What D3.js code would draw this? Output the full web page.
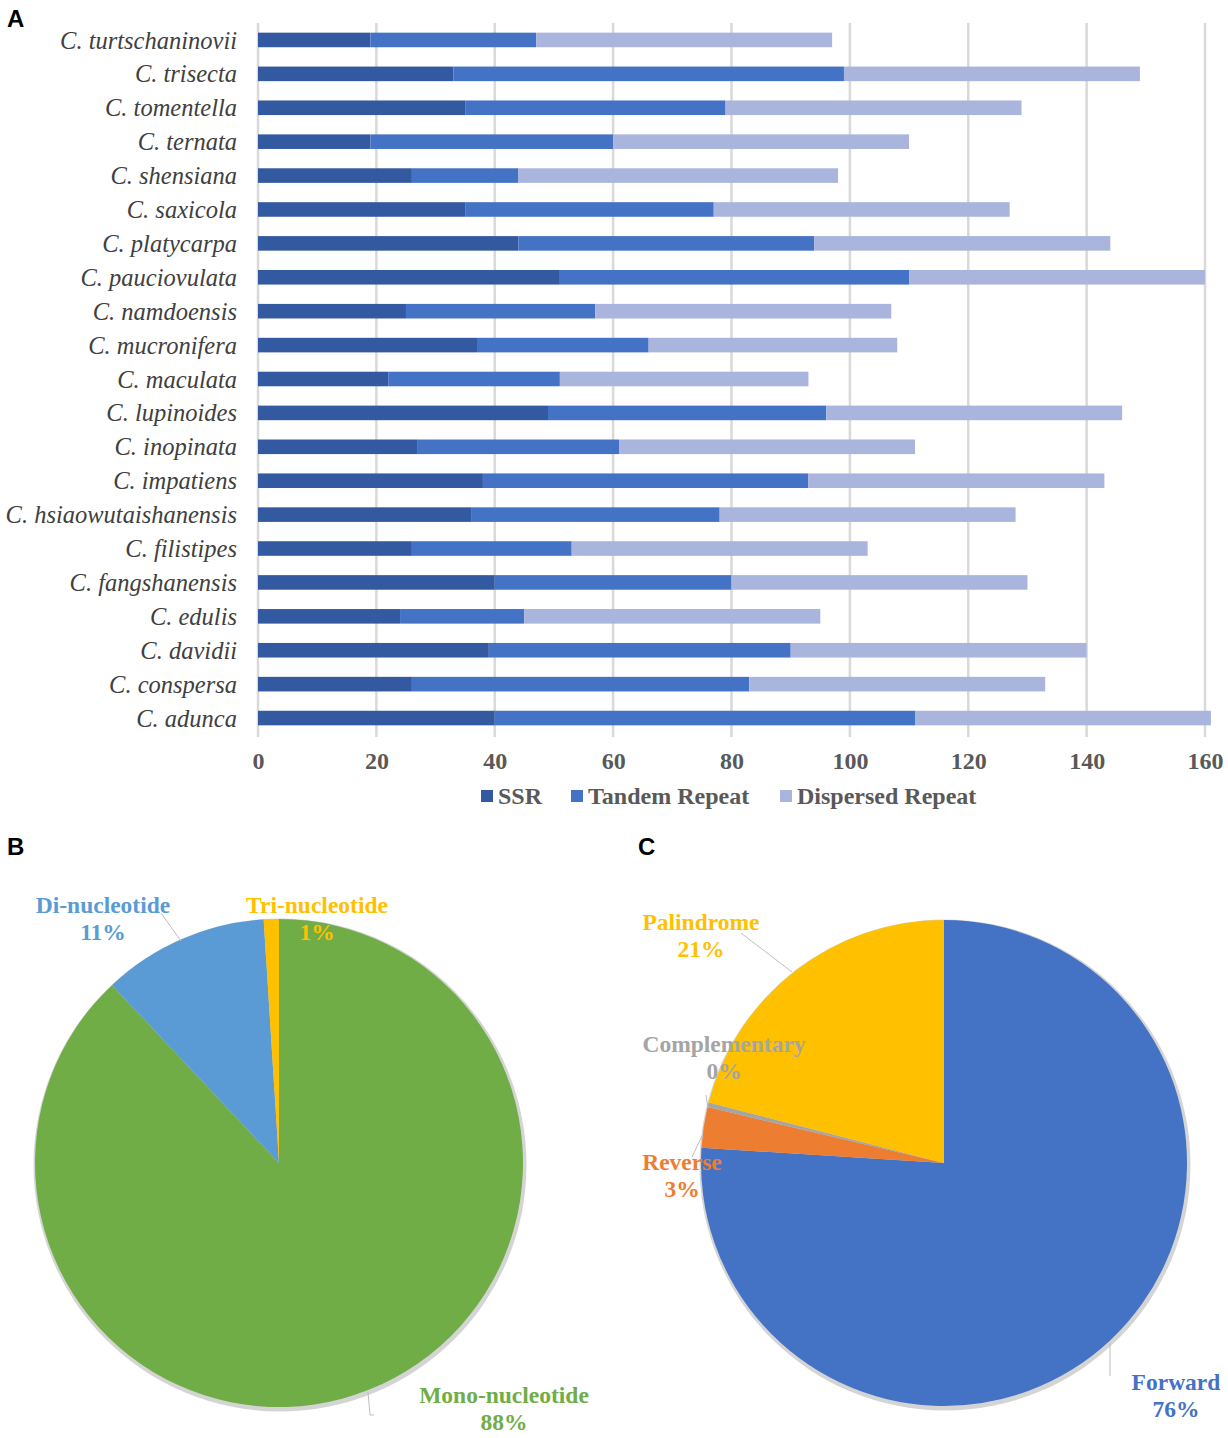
<!DOCTYPE html>
<html>
<head>
<meta charset="utf-8">
<script src="https://cdn.jsdelivr.net/npm/d3@7"></script>
<style>
  body { margin: 0; background: #fff; }
  svg text { font-family: "Liberation Serif", "Times New Roman", serif; }
  .panel { font-family: "Liberation Sans", Arial, sans-serif !important; font-weight: bold; font-size: 24px; }
</style>
</head>
<body>
<svg id="fig" width="1228" height="1438"></svg>
<script>
// species, top to bottom
const species = ["C. turtschaninovii", "C. trisecta", "C. tomentella", "C. ternata", "C. shensiana",
  "C. saxicola", "C. platycarpa", "C. pauciovulata", "C. namdoensis", "C. mucronifera", "C. maculata",
  "C. lupinoides", "C. inopinata", "C. impatiens", "C. hsiaowutaishanensis", "C. filistipes",
  "C. fangshanensis", "C. edulis", "C. davidii", "C. conspersa", "C. adunca"];
const ssr       = [19, 33, 35, 19, 26, 35, 44, 51, 25, 37, 22, 49, 27, 38, 36, 26, 40, 24, 39, 26, 40];
const tandem    = [28, 66, 44, 41, 18, 42, 50, 59, 32, 29, 29, 47, 34, 55, 42, 27, 40, 21, 51, 57, 71];
const dispersed = [50, 50, 50, 50, 54, 50, 50, 50, 50, 42, 42, 50, 50, 50, 50, 50, 50, 50, 50, 50, 50];
const seriesNames = ["SSR", "Tandem Repeat", "Dispersed Repeat"];
const seriesColors = ["#335aa1", "#4472c4", "#a9b5dd"];
const xTicks = [0, 20, 40, 60, 80, 100, 120, 140, 160];

// panel B
const ssrTypes = ["Mono-nucleotide", "Di-nucleotide", "Tri-nucleotide"];
const ssrShare = [88, 11, 1];
const ssrColors = ["#70ad47", "#5b9bd5", "#ffc000"];
// panel C
const repTypes = ["Forward", "Reverse", "Complementary", "Palindrome"];
const repShare = [76, 2.7, 0.3, 21];
const repColors = ["#4472c4", "#ed7d31", "#a5a5a5", "#ffc000"];

const svg = d3.select("#fig");

// ---------- A: stacked bars ----------
const x = d3.scaleLinear().domain([0, 160]).range([258, 1205]);
const y = d3.scaleBand().domain(species).range([23, 735]).paddingInner(0.57).paddingOuter(0.285);

svg.append("g").selectAll("line").data(xTicks).join("line")
  .attr("x1", d => x(d)).attr("x2", d => x(d))
  .attr("y1", 23).attr("y2", 737)
  .attr("stroke", "#d9d9d9").attr("stroke-width", 2.5);

const rows = species.map((s, i) => ({ s, vals: [ssr[i], tandem[i], dispersed[i]] }));
const stacked = d3.stack().keys([0, 1, 2]).value((d, k) => d.vals[k])(rows);

svg.append("g").selectAll("g").data(stacked).join("g")
  .attr("fill", (d, i) => seriesColors[i])
  .selectAll("rect").data(d => d).join("rect")
  .attr("x", d => x(d[0]))
  .attr("width", d => x(d[1]) - x(d[0]))
  .attr("y", d => y(d.data.s))
  .attr("height", y.bandwidth());

// species labels
svg.append("g").selectAll("text").data(species).join("text")
  .attr("x", 237)
  .attr("y", d => y(d) + y.bandwidth() / 2)
  .attr("dy", "0.35em")
  .attr("text-anchor", "end")
  .attr("font-style", "italic")
  .attr("font-size", 24.5)
  .attr("fill", "#404040")
  .text(d => d);

// x axis
const xAxis = svg.append("g").attr("transform", "translate(0,737)")
  .call(d3.axisBottom(x).tickValues(xTicks).tickSize(0).tickPadding(15));
xAxis.select(".domain").remove();
xAxis.selectAll("text")
  .attr("font-family", "Liberation Serif, serif")
  .attr("font-weight", "bold")
  .attr("font-size", 24)
  .attr("fill", "#595959");

// legend
const legendX = [481, 571, 780];
const legend = svg.append("g").selectAll("g").data(seriesNames).join("g")
  .attr("transform", (d, i) => `translate(${legendX[i]},796)`);
legend.append("rect").attr("x", 0).attr("y", -6).attr("width", 12).attr("height", 12)
  .attr("fill", (d, i) => seriesColors[i]);
legend.append("text").attr("x", 17).attr("dy", "0.35em")
  .attr("font-weight", "bold").attr("font-size", 24).attr("fill", "#595959")
  .text(d => d);

// panel letters
svg.append("text").attr("class", "panel").attr("x", 7).attr("y", 27).text("A");
svg.append("text").attr("class", "panel").attr("x", 7).attr("y", 855).text("B");
svg.append("text").attr("class", "panel").attr("x", 638).attr("y", 855).text("C");

// ---------- pies ----------
function drawPie(cx, cy, r, values, colors) {
  const g = svg.append("g").attr("transform", `translate(${cx},${cy})`);
  g.append("circle").attr("cx", 1).attr("cy", 2).attr("r", r + 2.5).attr("fill", "#d4d4d4");
  const arcs = d3.pie().sort(null)(values);
  g.selectAll("path").data(arcs).join("path")
    .attr("d", d3.arc().innerRadius(0).outerRadius(r))
    .attr("fill", (d, i) => colors[i]);
  return g;
}

function pieLabel(lx, ly, name, pct, color) {
  const t = svg.append("text").attr("text-anchor", "middle")
    .attr("font-weight", "bold").attr("font-size", 23.5).attr("fill", color);
  t.append("tspan").attr("x", lx).attr("y", ly).text(name);
  t.append("tspan").attr("x", lx).attr("y", ly + 27).text(pct);
}

function leader(pts) {
  svg.append("path").attr("d", d3.line()(pts))
    .attr("fill", "none").attr("stroke", "#bfbfbf").attr("stroke-width", 1);
}

drawPie(279, 1163, 244, ssrShare, ssrColors);
drawPie(944, 1163, 243, repShare, repColors);

leader([[161, 913], [181, 941]]);
leader([[368, 1392], [370, 1415], [374, 1415]]);
leader([[741, 933], [792, 972]]);
leader([[706, 1095], [708, 1108]]);
leader([[702, 1136], [692, 1157]]);
leader([[1110, 1343], [1110, 1376]]);

const fmt = v => d3.format(".0f")(v) + "%";
pieLabel(504, 1403, ssrTypes[0], fmt(ssrShare[0]), ssrColors[0]);
pieLabel(103, 913, ssrTypes[1], fmt(ssrShare[1]), ssrColors[1]);
pieLabel(317, 913, ssrTypes[2], fmt(ssrShare[2]), ssrColors[2]);

pieLabel(1176, 1390, repTypes[0], fmt(repShare[0]), repColors[0]);
pieLabel(682, 1170, repTypes[1], fmt(repShare[1]), repColors[1]);
pieLabel(724, 1052, repTypes[2], fmt(repShare[2]), repColors[2]);
pieLabel(701, 930, repTypes[3], fmt(repShare[3]), repColors[3]);
</script>
</body>
</html>
